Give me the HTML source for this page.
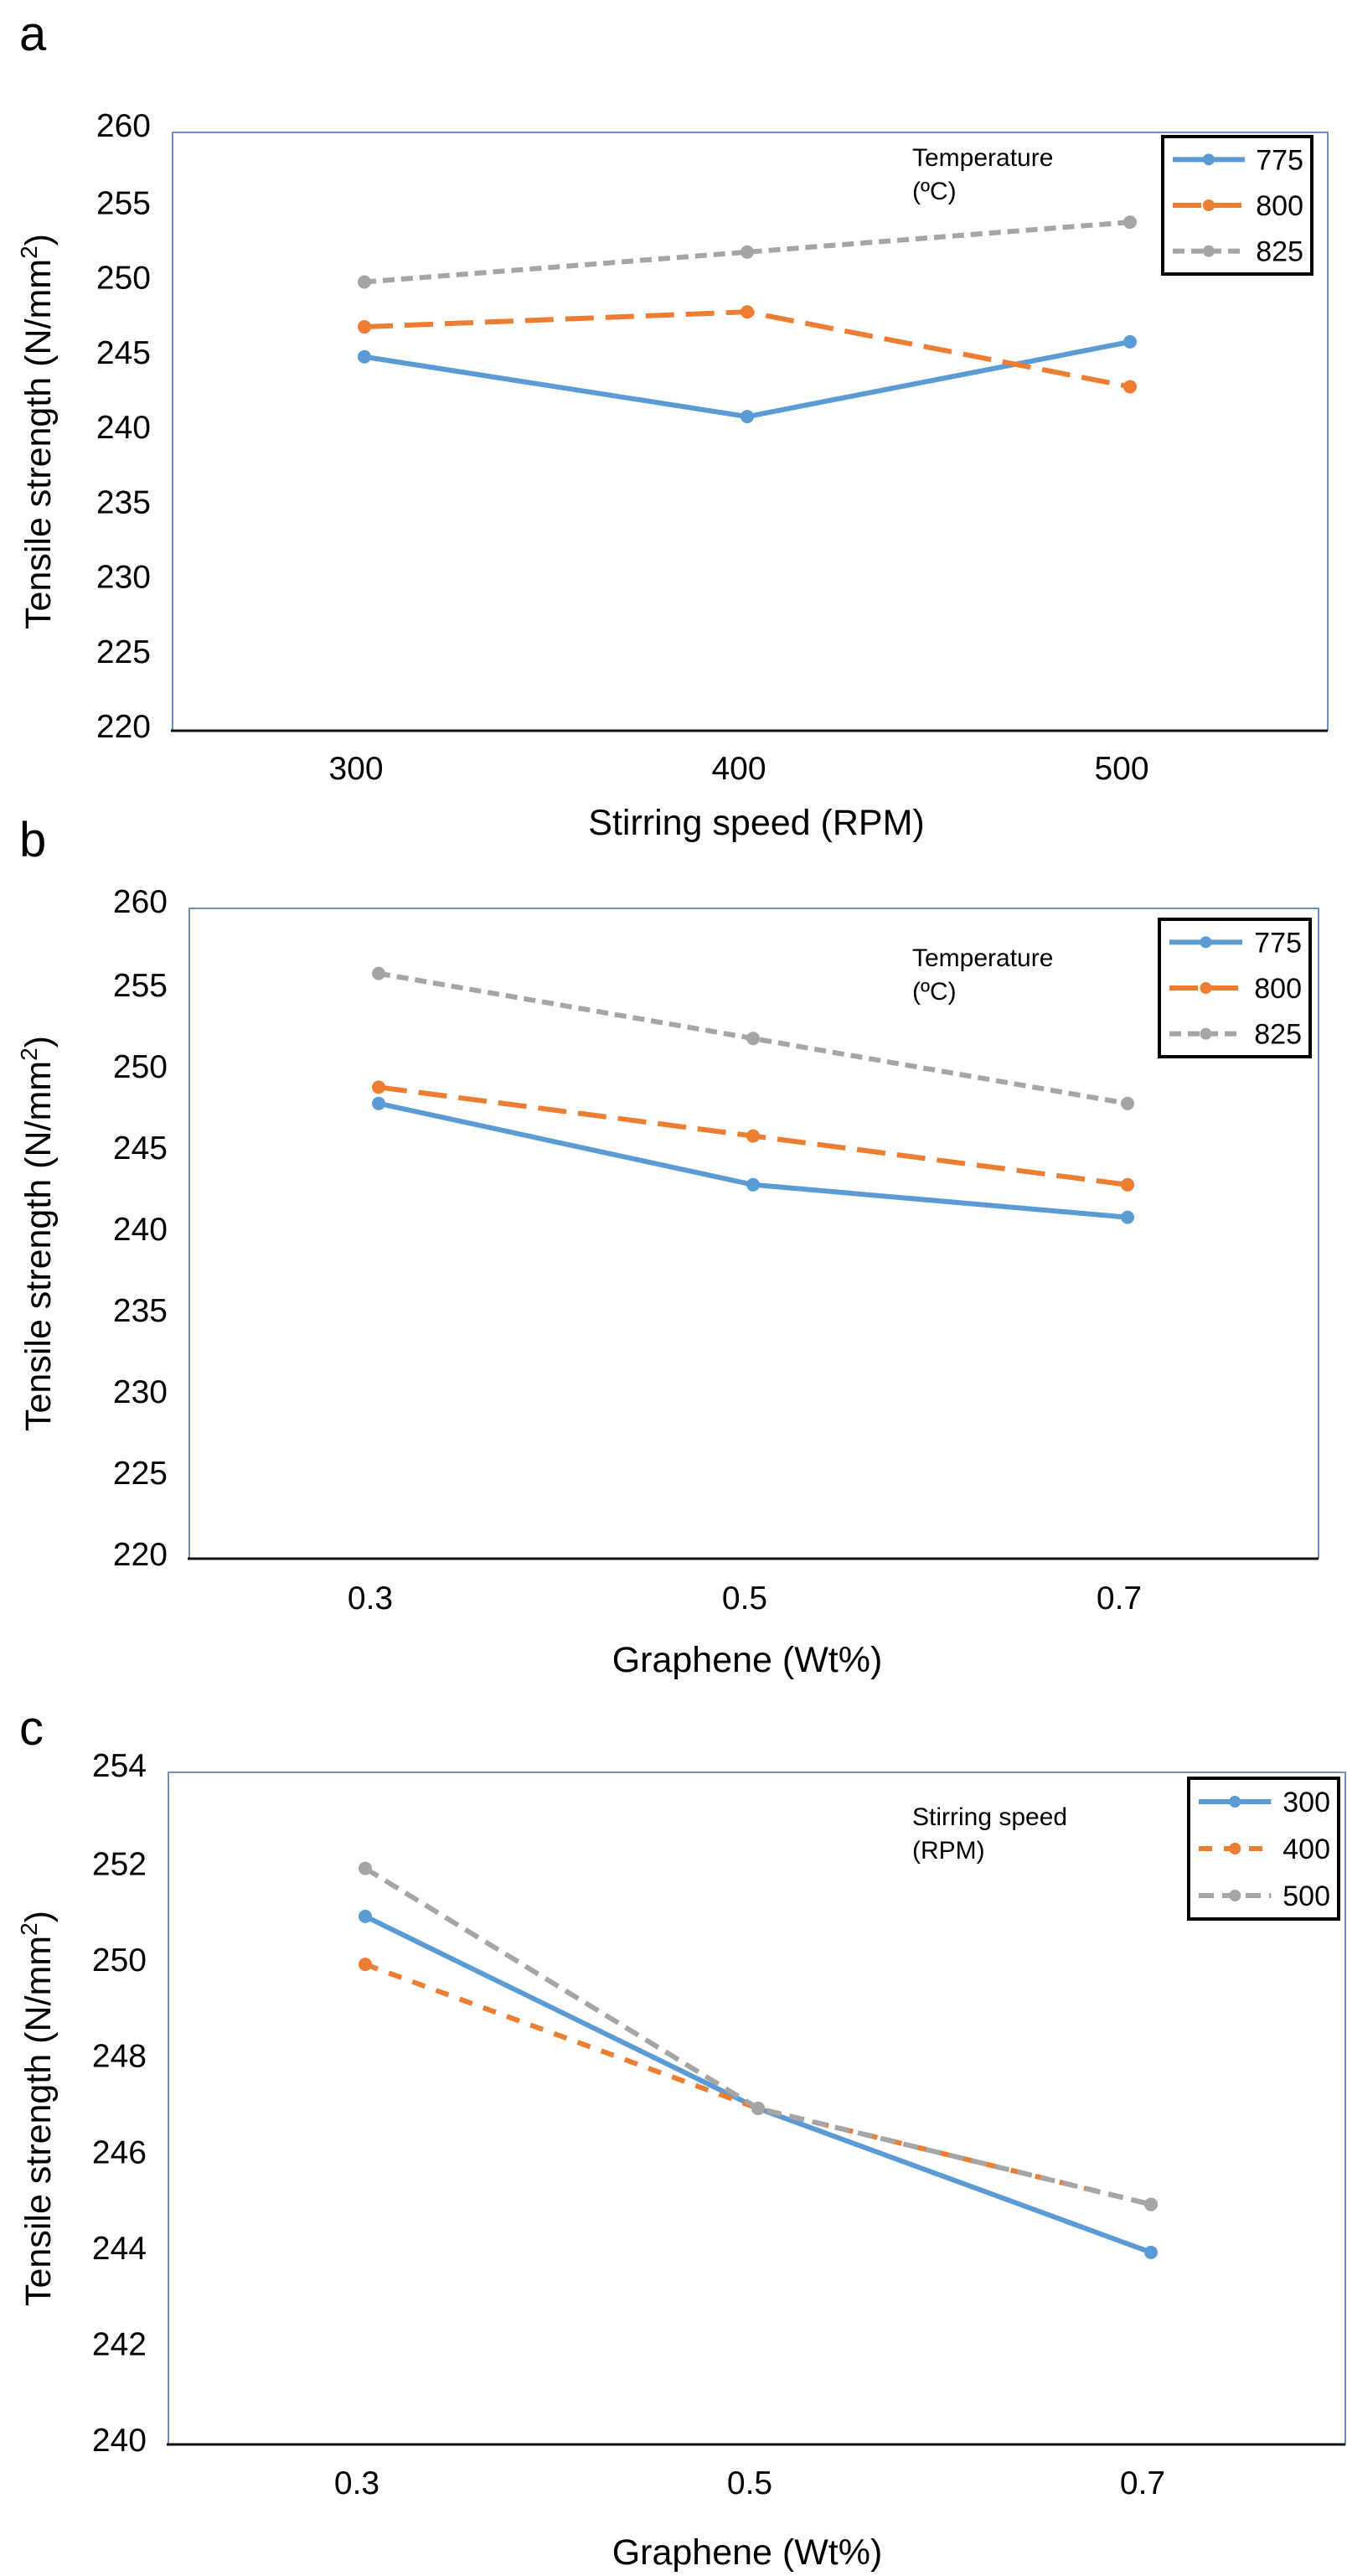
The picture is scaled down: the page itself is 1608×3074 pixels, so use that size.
<!DOCTYPE html>
<html><head><meta charset="utf-8">
<style>
html,body{margin:0;padding:0;background:#fff;}
svg{display:block;font-family:"Liberation Sans",Arial,sans-serif;}
</style></head>
<body>
<svg id="fig" width="1608" height="3074" viewBox="0 0 1608 3074" xmlns="http://www.w3.org/2000/svg"></svg>
<script>
// ---- Chart a data ----
const aCategories = ["300","400","500"];
const aSeries775 = [245, 241, 246];
const aSeries800 = [247, 248, 243];
const aSeries825 = [250, 252, 254];
const aTicks = [220,225,230,235,240,245,250,255,260];
const aLegend = ["775","800","825"];
// ---- Chart b data ----
const bCategories = ["0.3","0.5","0.7"];
const bSeries775 = [248, 243, 241];
const bSeries800 = [249, 246, 243];
const bSeries825 = [256, 252, 248];
const bTicks = [220,225,230,235,240,245,250,255,260];
const bLegend = ["775","800","825"];
// ---- Chart c data ----
const cCategories = ["0.3","0.5","0.7"];
const cSeries300 = [251, 247, 244];
const cSeries400 = [250, 247, 245];
const cSeries500 = [252, 247, 245];
const cTicks = [240,242,244,246,248,250,252,254];
const cLegend = ["300","400","500"];

const NS="http://www.w3.org/2000/svg";
const svg=document.getElementById('fig');
function mk(tag,attrs,parent,text){
  const e=document.createElementNS(NS,tag);
  for(const k in attrs) e.setAttribute(k,attrs[k]);
  if(text!==undefined) e.textContent=text;
  (parent||svg).appendChild(e); return e;
}
const BLUE="#5b9bd5", ORANGE="#ed7d31", GRAY="#a5a5a5";

function chart(cfg){
  const g=mk('g',{});
  
  
  const {left,right,top,bottom,ymin,ymax,xs}=cfg;
  const y=v=>bottom-(v-ymin)/(ymax-ymin)*(bottom-top);
  const x=i=>xs[0]+i*(xs[1]-xs[0]);
  // panel letter
  const pl=mk('text',{x:cfg.letterX,y:cfg.letterY,'font-size':58,fill:'#000'},g,cfg.letter);
  
  
  // frame
  const fr=mk('path',{d:`M${left},${bottom} L${left},${top} L${right},${top} L${right},${bottom}`,fill:'none',stroke:'#6f8fbf','stroke-width':2},g);
  
  
  const xa=mk('line',{x1:left-2,y1:bottom,x2:right,y2:bottom,stroke:'#111','stroke-width':3},g);
  
  
  // y ticks
  cfg.ticks.forEach(t=>{
    const tl=mk('text',{x:left-26,y:y(t)+(t===ymax?5:8),'font-size':39,'text-anchor':'end',fill:'#000'},g,String(t));
    
    
  });
  // x ticks
  cfg.cats.forEach((c,i)=>{
    const xl=mk('text',{x:x(i)-10,y:cfg.xLabelY,'font-size':39,'text-anchor':'middle',fill:'#000'},g,c);
    
    
  });
  // titles
  const yt=mk('text',{x:0,y:0,'font-size':43,'text-anchor':'middle',fill:'#000',transform:`translate(${cfg.yTitleX},${(top+bottom)/2}) rotate(-90)`},g);
  
  
  mk('tspan',{},yt,'Tensile strength (N/mm');
  mk('tspan',{dy:-16,'font-size':28},yt,'2');
  mk('tspan',{dy:16},yt,')');
  const xt=mk('text',{x:cfg.xTitleX,y:cfg.xTitleY,'font-size':43,'text-anchor':'middle',fill:'#000'},g,cfg.xTitle);
  
  
  // annotation
  const an=mk('text',{x:1089,y:cfg.annY,'font-size':30,fill:'#000'},g);
  
  
  mk('tspan',{x:1089},an,cfg.ann[0]);
  mk('tspan',{x:1089,dy:40},an,cfg.ann[1]);
  // series
  cfg.series.forEach((s,si)=>{
    const pts=s.vals.map((v,i)=>`${x(i)},${y(v)}`).join(' ');
    const ln=mk('polyline',{points:pts,fill:'none',stroke:s.color,'stroke-width':6,'stroke-dasharray':s.dash||'none','stroke-linejoin':'round'},g);
    
    
    s.vals.forEach((v,i)=>{
      const m=mk('circle',{cx:x(i),cy:y(v),r:8,fill:s.color},g);
      
      
    });
  });
  // legend
  const L=cfg.leg;
  const lg=mk('g',{},g);
  
  
  mk('rect',{x:L.x,y:L.y,width:L.w,height:L.h,fill:'#fff',stroke:'#000','stroke-width':4},lg);
  cfg.series.forEach((s,si)=>{
    const ry=L.y+L.h*(si+0.5)/3;
    const e=mk('g',{},lg);
    
    
    mk('line',{x1:L.x+12,y1:ry,x2:L.x+L.w*0.55,y2:ry,stroke:s.color,'stroke-width':6,'stroke-dasharray':s.dash||'none'},e);
    mk('circle',{cx:L.x+12+(L.w*0.55-12)/2,cy:ry,r:7,fill:s.color},e);
    mk('text',{x:L.x+L.w-10,y:ry+12,'font-size':34,'text-anchor':'end',fill:'#000'},e,cfg.legend[si]);
  });
}

chart({name:'chart-a',letter:'a',letterX:23,letterY:60,left:206,right:1585,top:158,bottom:872,ymin:220,ymax:260,
  xs:[435,892],cats:aCategories,ticks:aTicks,xLabelY:930,yTitleX:60,xTitle:'Stirring speed (RPM)',xTitleX:903,xTitleY:996,
  annY:198,ann:['Temperature','(ºC)'],legend:aLegend,leg:{x:1388,y:163,w:178,h:164},
  series:[{vals:aSeries775,color:BLUE},{vals:aSeries800,color:ORANGE,dash:'34 14'},{vals:aSeries825,color:GRAY,dash:'14 8'}]});

chart({name:'chart-b',letter:'b',letterX:23,letterY:1022,left:226,right:1574,top:1084,bottom:1860,ymin:220,ymax:260,
  xs:[452,899],cats:bCategories,ticks:bTicks,xLabelY:1920,yTitleX:60,xTitle:'Graphene (Wt%)',xTitleX:892,xTitleY:1995,
  annY:1153,ann:['Temperature','(ºC)'],legend:bLegend,leg:{x:1384,y:1097,w:180,h:164},
  series:[{vals:bSeries775,color:BLUE},{vals:bSeries800,color:ORANGE,dash:'34 14'},{vals:bSeries825,color:GRAY,dash:'14 8'}]});

chart({name:'chart-c',letter:'c',letterX:23,letterY:2082,left:201,right:1606,top:2115,bottom:2917,ymin:240,ymax:254,
  xs:[436,905],cats:cCategories,ticks:cTicks,xLabelY:2976,yTitleX:60,xTitle:'Graphene (Wt%)',xTitleX:892,xTitleY:3060,
  annY:2178,ann:['Stirring speed','(RPM)'],legend:cLegend,leg:{x:1419,y:2122,w:179,h:168},
  series:[{vals:cSeries300,color:BLUE},{vals:cSeries400,color:ORANGE,dash:'16 14'},{vals:cSeries500,color:GRAY,dash:'18 10'}]});
</script>
</body></html>
